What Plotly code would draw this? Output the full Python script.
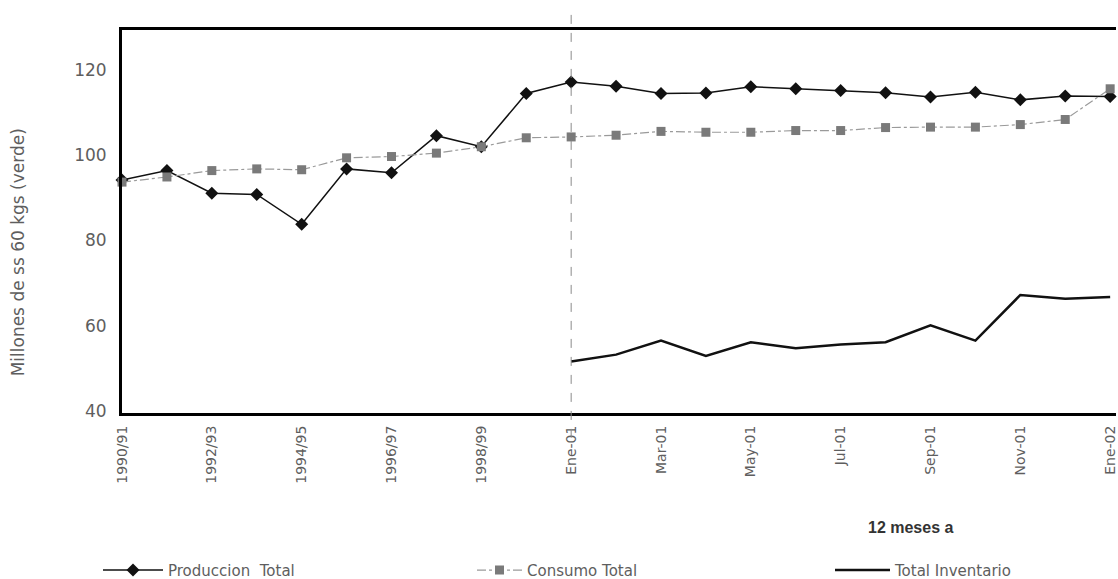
import plotly.graph_objects as go

# Periods: crop years, then monthly 12-month totals
periodos = ["1990/91", "1991/92", "1992/93", "1993/94", "1994/95", "1995/96",
            "1996/97", "1997/98", "1998/99", "1999/00",
            "Ene-01", "Feb-01", "Mar-01", "Abr-01", "May-01", "Jun-01",
            "Jul-01", "Ago-01", "Sep-01", "Oct-01", "Nov-01", "Dic-01", "Ene-02"]

produccion = [94.2, 96.4, 91.1, 90.8, 83.8, 96.8, 95.9, 104.6, 102.0, 114.5,
              117.2, 116.2, 114.5, 114.6, 116.1, 115.6, 115.2, 114.7, 113.7,
              114.8, 113.0, 113.9, 113.8]

consumo = [93.7, 94.9, 96.4, 96.8, 96.6, 99.4, 99.7, 100.5, 102.0, 104.1,
           104.3, 104.7, 105.6, 105.4, 105.4, 105.8, 105.8, 106.5, 106.6,
           106.6, 107.2, 108.4, 115.6]

inventario = [None] * 10 + [51.6, 53.2, 56.5, 52.9, 56.1, 54.7, 55.6, 56.1,
                            60.1, 56.5, 67.2, 66.3, 66.7]

etiquetas_x = periodos[::2]
texto_x = ["1990/91", "1992/93", "1994/95", "1996/97", "1998/99",
           "Ene-01", "Mar-01", "May-01", "Jul-01", "Sep-01", "Nov-01", "Ene-02"]
ticks_y = [40, 60, 80, 100, 120]

FONT = "DejaVu Sans, Liberation Sans, Arial, sans-serif"
GRIS = "#5e5e5e"

fig = go.Figure()

fig.add_trace(go.Scatter(
    x=periodos, y=produccion, name="Produccion  Total", mode="lines+markers",
    line=dict(color="#111111", width=1.5),
    marker=dict(symbol="diamond", size=10, color="#111111"),
    cliponaxis=False, showlegend=True, legend="legend"))

fig.add_trace(go.Scatter(
    x=periodos, y=consumo, name="Consumo Total", mode="lines+markers",
    line=dict(color="#9a9a9a", width=1.2, dash="dashdot"),
    marker=dict(symbol="square", size=9, color="#7a7a7a"),
    cliponaxis=False, showlegend=True, legend="legend2"))

fig.add_trace(go.Scatter(
    x=periodos, y=inventario, name="Total Inventario", mode="lines",
    line=dict(color="#111111", width=2.5),
    cliponaxis=False, showlegend=True, legend="legend3"))

# Dashed divider between annual and monthly series
fig.add_shape(type="line", xref="x", yref="paper", x0=10, x1=10,
              y0=-0.065, y1=1.04, line=dict(color="#8a8a8a", width=1, dash="dash"))


def leyenda(x_px, ancho):
    return dict(orientation="h", xref="container", yref="container",
                x=x_px / 1118, xanchor="left", yanchor="middle", y=0.015,
                itemwidth=ancho,
                font=dict(family=FONT, size=15, color=GRIS),
                bgcolor="rgba(0,0,0,0)")


fig.update_layout(
    width=1118, height=579,
    margin=dict(l=122, r=0, t=30, b=166),
    paper_bgcolor="white", plot_bgcolor="white",
    font=dict(family=FONT, color=GRIS),
    showlegend=True,
    legend=leyenda(98, 60),
    legend2=leyenda(472, 45),
    legend3=leyenda(830, 55),
    xaxis=dict(
        type="category", categoryorder="array", categoryarray=periodos,
        range=[0, 22.13], tickmode="array", tickvals=etiquetas_x, ticktext=texto_x,
        tickangle=-90, tickfont=dict(family=FONT, size=14, color=GRIS),
        showgrid=False, zeroline=False, showline=True, mirror=True,
        linecolor="#000000", linewidth=3, ticks="", ticklabelstandoff=4),
    yaxis=dict(
        range=[39.5, 129.4], tickvals=ticks_y,
        tickfont=dict(family=FONT, size=17, color=GRIS),
        showgrid=False, zeroline=False, showline=True,
        linecolor="#000000", linewidth=3, ticks="", ticklabelstandoff=9),
    annotations=[
        dict(text="Millones de ss 60 kgs (verde)", xref="paper", yref="paper",
             x=(18 - 122) / 996, y=0.42, xanchor="center", yanchor="middle",
             textangle=-90, showarrow=False,
             font=dict(family=FONT, size=17, color=GRIS)),
        dict(text="<b>12 meses a</b>", xref="paper", yref="paper",
             x=(913 - 122) / 996, y=(413 - 527) / 383, xanchor="center",
             yanchor="middle", showarrow=False,
             font=dict(family="Liberation Sans, Arial, sans-serif", size=16,
                       color="#333333")),
    ],
)

fig.write_html("out.html")
